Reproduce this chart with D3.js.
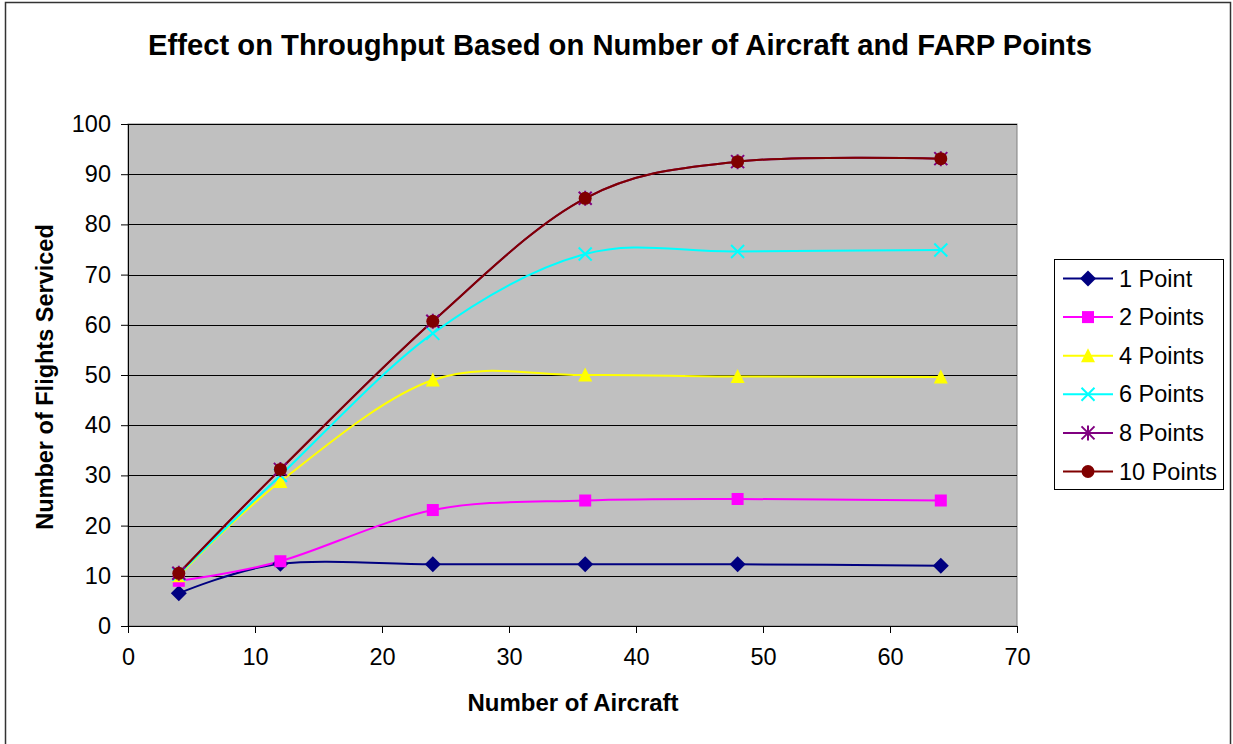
<!DOCTYPE html>
<html>
<head>
<meta charset="utf-8">
<script src="https://cdn.jsdelivr.net/npm/d3@7"></script>
<style>
  html, body { margin: 0; padding: 0; background: #fff; }
  svg { display: block; font-family: "Liberation Sans", Arial, sans-serif; }
</style>
</head>
<body>
<svg id="chart" width="1233" height="744"></svg>
<script>
// Number of aircraft at each run
const aircraft = [4, 12, 24, 36, 48, 64];

// Flights serviced for each FARP point configuration
const seriesNames = ["1 Point", "2 Points", "4 Points", "6 Points", "8 Points", "10 Points"];
const onePoint   = [6.5, 12.4, 12.3, 12.3, 12.3, 12.0];
const twoPoints  = [9.0, 12.9, 23.1, 25.0, 25.3, 25.0];
const fourPoints = [10.0, 28.8, 49.0, 50.0, 49.7, 49.6];
const sixPoints  = [10.3, 30.0, 58.3, 74.1, 74.6, 74.9];
const eightPoints = [10.5, 31.2, 60.7, 85.2, 92.5, 93.1];
const tenPoints  = [10.5, 31.2, 60.7, 85.2, 92.5, 93.1];

const xTicks = [0, 10, 20, 30, 40, 50, 60, 70];
const yTicks = [0, 10, 20, 30, 40, 50, 60, 70, 80, 90, 100];

const seriesValues = [onePoint, twoPoints, fourPoints, sixPoints, eightPoints, tenPoints];
const colors = ["#000080", "#ff00ff", "#ffff00", "#00ffff", "#800080", "#800000"];
const symbols = ["diamond", "square", "triangle", "x", "star", "circle"];

const svg = d3.select("#chart");

// Outer frame
svg.append("rect")
  .attr("x", 5.5).attr("y", 2.5).attr("width", 1225).attr("height", 745)
  .attr("fill", "#fff").attr("stroke", "#333").attr("stroke-width", 1.5);

const plot = { left: 128, top: 124, right: 1017, bottom: 626 };

const x = d3.scaleLinear().domain([0, 70]).range([plot.left, plot.right]);
const y = d3.scaleLinear().domain([0, 100]).range([plot.bottom, plot.top]);

// Plot background
svg.append("rect")
  .attr("x", plot.left).attr("y", plot.top)
  .attr("width", plot.right - plot.left).attr("height", plot.bottom - plot.top)
  .attr("fill", "#c0c0c0").attr("stroke", "#808080").attr("stroke-width", 1);

// Horizontal gridlines
svg.append("g")
  .selectAll("line")
  .data(yTicks.filter(d => d > 0))
  .join("line")
  .attr("x1", plot.left).attr("x2", plot.right)
  .attr("y1", d => Math.round(y(d)) + 0.5).attr("y2", d => Math.round(y(d)) + 0.5)
  .attr("stroke", "#000").attr("stroke-width", 1);

// Axes
const xAxis = svg.append("g")
  .attr("transform", `translate(0,${plot.bottom})`)
  .call(d3.axisBottom(x).tickValues(xTicks).tickSize(7).tickPadding(15).tickFormat(d3.format("d")));
const yAxis = svg.append("g")
  .attr("transform", `translate(${plot.left},0)`)
  .call(d3.axisLeft(y).tickValues(yTicks).tickSize(7).tickPadding(10).tickFormat(d3.format("d")));

[xAxis, yAxis].forEach(ax => {
  ax.select(".domain").attr("stroke", "#000").attr("stroke-width", 1);
  ax.selectAll(".tick line").attr("stroke", "#000");
  ax.selectAll(".tick text")
    .attr("fill", "#000")
    .style("font-size", "23.5px")
    .style("font-family", '"Liberation Sans", Arial, sans-serif');
});

// Series lines and markers
const line = d3.line()
  .x(d => x(d[0]))
  .y(d => y(d[1]))
  .curve(d3.curveCatmullRom.alpha(0));

function drawMarker(g, type, color, cx, cy) {
  const m = g.append("g").attr("transform", `translate(${cx},${cy})`);
  if (type === "diamond") {
    m.append("path").attr("d", "M0,-8L8,0L0,8L-8,0Z").attr("fill", color);
  } else if (type === "square") {
    m.append("rect").attr("x", -6).attr("y", -6).attr("width", 12).attr("height", 12).attr("fill", color);
  } else if (type === "triangle") {
    m.append("path").attr("d", "M0,-7.5L7,6.5L-7,6.5Z").attr("fill", color);
  } else if (type === "x") {
    m.append("path").attr("d", "M-6.5,-6.5L6.5,6.5M-6.5,6.5L6.5,-6.5").attr("stroke", color).attr("stroke-width", 2);
  } else if (type === "star") {
    m.append("path").attr("d", "M-6.5,-6.5L6.5,6.5M-6.5,6.5L6.5,-6.5M0,-7.5L0,7.5").attr("stroke", color).attr("stroke-width", 2);
  } else if (type === "circle") {
    m.append("circle").attr("r", 6.5).attr("fill", color);
  }
}

const seriesG = svg.append("g");
seriesValues.forEach((vals, i) => {
  const pts = aircraft.map((a, j) => [a, vals[j]]);
  seriesG.append("path")
    .datum(pts)
    .attr("d", line)
    .attr("fill", "none")
    .attr("stroke", colors[i])
    .attr("stroke-width", 2);
});
seriesValues.forEach((vals, i) => {
  aircraft.forEach((a, j) => drawMarker(seriesG, symbols[i], colors[i], x(a), y(vals[j])));
});

// Title
svg.append("text")
  .attr("x", 620).attr("y", 55)
  .attr("text-anchor", "middle")
  .style("font-size", "29.2px").style("font-weight", "bold")
  .text("Effect on Throughput Based on Number of Aircraft and FARP Points");

// Axis titles
svg.append("text")
  .attr("x", 573).attr("y", 711)
  .attr("text-anchor", "middle")
  .style("font-size", "24px").style("font-weight", "bold")
  .text("Number of Aircraft");

svg.append("text")
  .attr("transform", "translate(53,377) rotate(-90)")
  .attr("text-anchor", "middle")
  .style("font-size", "23.5px").style("font-weight", "bold")
  .text("Number of Flights Serviced");

// Legend
const legend = svg.append("g");
legend.append("rect")
  .attr("x", 1054.5).attr("y", 259.5).attr("width", 169).attr("height", 230)
  .attr("fill", "#fff").attr("stroke", "#000").attr("stroke-width", 1);

seriesNames.forEach((name, i) => {
  const ly = 278.5 + i * 38.6;
  legend.append("line")
    .attr("x1", 1063).attr("x2", 1113).attr("y1", ly).attr("y2", ly)
    .attr("stroke", colors[i]).attr("stroke-width", 2);
  drawMarker(legend, symbols[i], colors[i], 1088, ly);
  legend.append("text")
    .attr("x", 1119).attr("y", ly + 8)
    .style("font-size", "23.5px")
    .text(name);
});
</script>
</body>
</html>
